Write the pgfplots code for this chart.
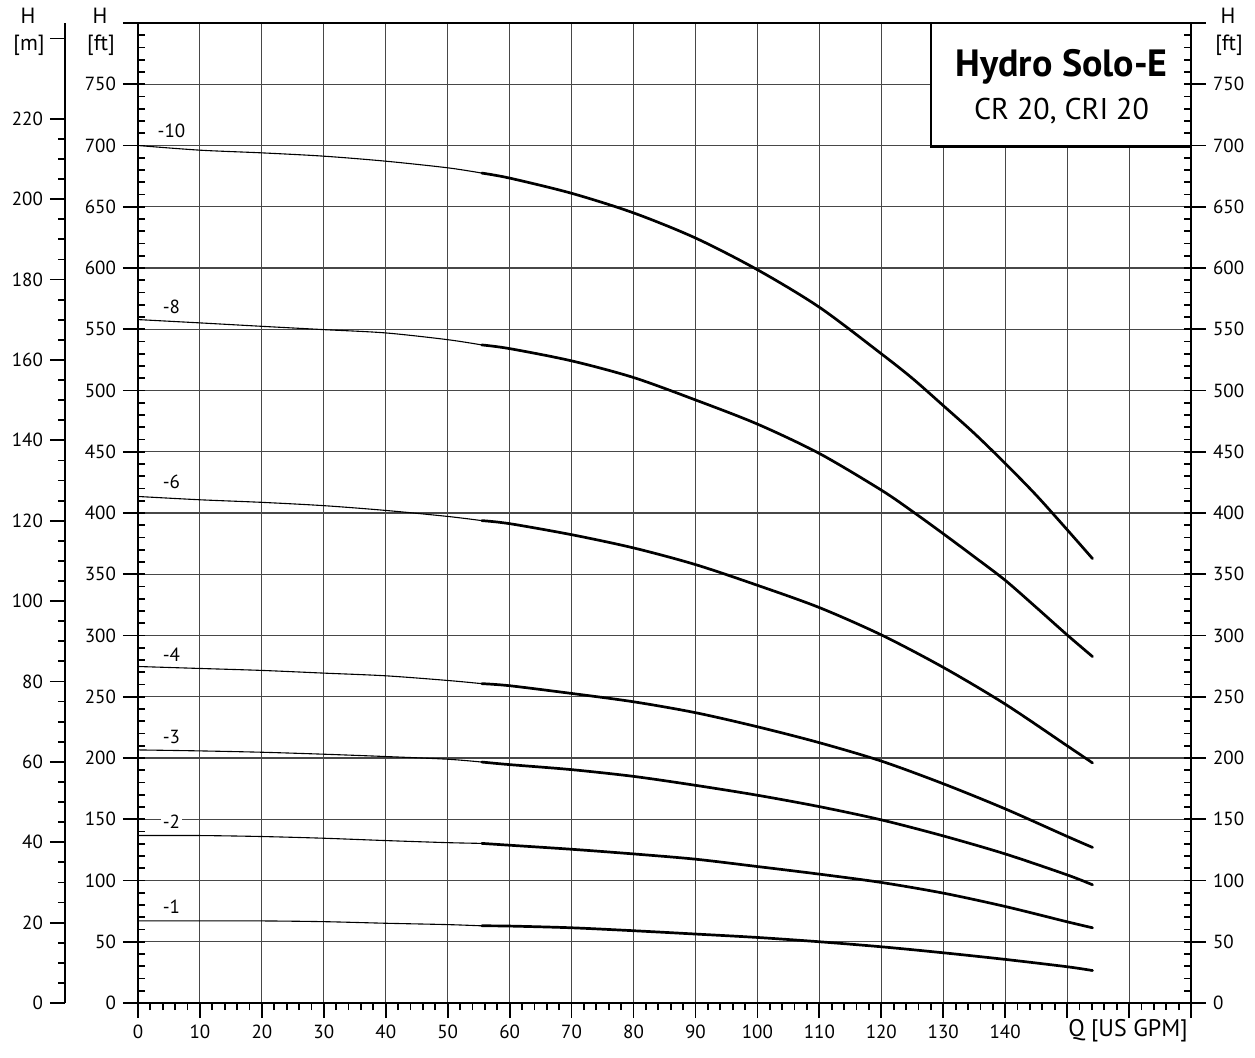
\documentclass[border=0pt]{standalone}
\usepackage{pgfplots}
\pgfplotsset{compat=1.18}
\usepackage{fontspec}
\setmainfont{PT Sans}

% one pixel of the reference = 0.5pt
\pgfplotsset{
  hbase/.style={
    at={(0pt,0pt)}, anchor=south west,
    scale only axis, width=526.5pt, height=490pt,
    xmin=0, xmax=170, ymin=0, ymax=800,
    /pgf/number format/assume math mode=true,
    tick label style={font=\fontsize{9.5}{11}\selectfont},
    tick style={black, line width=0.9pt},
  },
  thincurve/.style={black, line width=0.55pt, smooth, tension=0.5},
  thickcurve/.style={black, line width=1.35pt, smooth, tension=0.5, line cap=round},
}

\begin{document}
\begin{tikzpicture}[x=0.5pt, y=0.5pt]

% H [m] scale on the far left
\begin{axis}[
  at={(-36.5pt,0pt)}, anchor=south west,
  scale only axis, width=10pt, height=490pt,
  xmin=0, xmax=1, ymin=0, ymax=243.84,
  axis x line=none, axis y line*=left,
  axis line style={line width=1.2pt},
  /pgf/number format/assume math mode=true,
  tick label style={font=\fontsize{9.5}{11}\selectfont},
  tick style={black, line width=0.9pt},
  ytick={0,20,...,220},
  extra y ticks={240}, extra y tick labels={},
  minor y tick num=3,
  tick align=outside,
  major tick length=7.5pt, minor tick length=3.5pt,
]
\end{axis}

% main axis
\begin{axis}[hbase,
  clip=false,
  axis line style={line width=1.2pt},
  grid=major,
  major grid style={black!72, line width=0.55pt},
  xtick={0,10,...,170},
  xticklabels={0,10,20,30,40,50,60,70,80,90,100,110,120,130,140,{},{},{}},
  minor x tick num=4,
  ytick={0,50,...,800},
  yticklabels={0,50,100,150,200,250,300,350,400,450,500,550,600,650,700,750,{}},
  xtick pos=left, ytick pos=both, yticklabel pos=left,
  tick align=outside,
  major tick length=7.5pt, minor tick length=3.5pt,
]
% -10
\addplot[thincurve] coordinates {(0,700) (10,696.2) (20,694) (30,691.3) (40,687.2) (50,681.8) (55.5,677.5)};
\addplot[thickcurve] coordinates {(55.5,677.5) (60,673.4) (70,661) (80,645) (90,624.5) (100,598.6) (110,568) (120,530) (125,510) (130,487.7) (135,465.1) (140,440.5) (145,414.6) (150,386.4) (154.1,362.8)};
% -8
\addplot[thincurve] coordinates {(0,557.9) (10,555.2) (20,552.4) (30,549.7) (40,547) (50,541.5) (55.5,537.2)};
\addplot[thickcurve] coordinates {(55.5,537.2) (60,534.2) (70,524.2) (80,510.6) (90,492.3) (100,472.6) (110,448.6) (120,418.7) (125,401.4) (130,383.1) (135,364.3) (140,345.1) (145,323) (150,300.5) (154.1,282.8)};
% -6
\addplot[thincurve] coordinates {(0,413.5) (10,410.8) (20,408.7) (30,406) (40,402.1) (50,397.2) (55.5,393.8)};
\addplot[thickcurve] coordinates {(55.5,393.8) (60,391.3) (70,382.3) (80,371.5) (90,357.9) (100,341) (110,322.8) (120,300.5) (130,274) (140,244) (150,210) (154.1,196)};
% -4
\addplot[thincurve] coordinates {(0,274.7) (10,273.1) (20,271.5) (30,269.3) (40,267.1) (50,263.3) (55.5,260.7)};
\addplot[thickcurve] coordinates {(55.5,260.7) (60,259) (70,252.7) (80,245.9) (90,237) (100,225.5) (110,212.5) (120,197.5) (130,179) (140,158.5) (150,136) (154.1,127)};
% -3
\addplot[thincurve] coordinates {(0,206.6) (10,205.8) (20,204.7) (30,203.1) (40,201.2) (50,199) (55.5,196.7)};
\addplot[thickcurve] coordinates {(55.5,196.7) (60,194.6) (70,190.5) (80,185) (90,177.7) (100,169.6) (110,160.3) (120,149.5) (130,136.4) (140,121.7) (150,104.6) (154.1,96.5)};
% -2
\addplot[thincurve] coordinates {(0,136.7) (10,136.7) (20,135.9) (30,134.5) (40,132.6) (50,130.9) (55.5,130.3)};
\addplot[thickcurve] coordinates {(55.5,130.3) (60,128.8) (70,125.5) (80,121.7) (90,117.4) (100,111.4) (110,105.2) (120,98.4) (130,89.7) (140,78.8) (150,66.3) (154.1,61.4)};
% -1
\addplot[thincurve] coordinates {(0,67) (10,67) (20,67) (30,66.4) (40,65.1) (50,64) (55.5,63)};
\addplot[thickcurve] coordinates {(55.5,63) (60,62.8) (70,61.4) (80,59) (90,56.3) (100,53.5) (110,50) (120,45.9) (130,41) (140,35.6) (150,29.6) (154.1,26.5)};

% curve names
\begin{scope}[every node/.style={font=\fontsize{9.5}{11}\selectfont, fill=white, inner sep=0.8pt}]
\node at (axis cs:5.4,712) {-10};
\node at (axis cs:5.4,568.5) {-8};
\node at (axis cs:5.4,425.4) {-6};
\node at (axis cs:5.4,284.2) {-4};
\node at (axis cs:5.4,217.3) {-3};
\node at (axis cs:5.4,147.9) {-2};
\node at (axis cs:5.4,78.4) {-1};
\end{scope}

% title box
\draw[fill=white, line width=1.2pt] (axis cs:128,699.2) rectangle (axis cs:170,800);
\node[font=\fontsize{19}{22}\selectfont\bfseries] at (axis cs:149.1,764.5) {Hydro Solo-E};
\node[font=\fontsize{15}{18}\selectfont] at (axis cs:149.1,727.8) {CR 20, CRI 20};
\end{axis}

% inward minor ticks on both ft scales
\begin{axis}[hbase,
  axis line style={draw=none},
  xtick=\empty,
  ytick={0,10,...,800}, yticklabels={,,},
  ytick pos=both,
  tick align=inside, major tick length=3.5pt,
]
\end{axis}

% ft labels on the right
\begin{axis}[hbase,
  axis x line=none, axis y line*=right,
  axis line style={draw=none},
  ytick={0,50,...,750},
  tick align=outside, major tick length=7.5pt,
  major tick style={draw=none},
]
\end{axis}

% scale names
\begin{scope}[every node/.style={font=\fontsize{11}{13}\selectfont, inner sep=0pt}]
\node at (-110,987) {H};
\node at (-109,958) {[m]};
\node at (-38,987) {H};
\node at (-37,958) {[ft]};
\node at (1090,987) {H};
\node at (1091,958) {[ft]};
\node[font=\fontsize{12}{14}\selectfont] at (990,-28) {Q [US GPM]};
\end{scope}

\pgfresetboundingbox
\path (-138,-54) rectangle (1117,1003);
\end{tikzpicture}
\end{document}
